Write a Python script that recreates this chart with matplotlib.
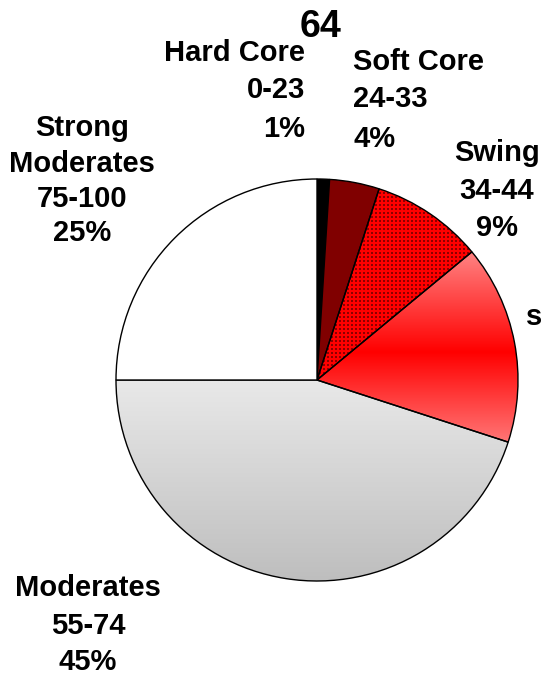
import numpy as np
import matplotlib
matplotlib.use("Agg")
import matplotlib.pyplot as plt

# Segment data (clockwise from 12 o'clock)
segments = ["Hard Core", "Soft Core", "Swing", "Soft Swing", "Moderates", "Strong Moderates"]
score_ranges = ["0-23", "24-33", "34-44", "45-54", "55-74", "75-100"]
shares = [1, 4, 9, 16, 45, 25]
title_text = "64"

W, H = 541, 675
fig = plt.figure(figsize=(W / 100, H / 100), dpi=100)
ax = fig.add_axes([0, 0, 1, 1])

cx, cy, r = 317, H - 380, 201

base_colors = ["#000000", "#800000", "none", "none", "none", "#ffffff"]
wedges, _ = ax.pie(shares, startangle=90, counterclock=False,
                   center=(cx, cy), radius=r, colors=base_colors,
                   wedgeprops=dict(edgecolor="black", linewidth=1.0))
for w in wedges:
    w.set_zorder(2)


def wedge_box(w):
    bb = w.get_path().get_extents(w.get_patch_transform())
    return (int(np.floor(bb.x0)) - 2, int(np.ceil(bb.x1)) + 2,
            int(np.floor(bb.y0)) - 2, int(np.ceil(bb.y1)) + 2)


def fill_wedge(w, rgb, x0, x1, y0, y1, interp):
    im = ax.imshow(rgb, extent=(x0, x1, y0, y1), origin="lower",
                   interpolation=interp, zorder=1, aspect="auto")
    im.set_clip_path(w)


# Swing: red fill with a dark dot texture
w = wedges[2]
x0, x1, y0, y1 = wedge_box(w)
nx, ny = x1 - x0, y1 - y0
tex = np.zeros((ny, nx, 3))
tex[:, :] = (1.0, 0.0, 0.0)
yy, xx = np.mgrid[0:ny, 0:nx]
dots = ((xx % 4) < 2) & ((yy % 4) < 2)
tex[dots] = (0.55, 0.0, 0.0)
fill_wedge(w, tex, x0, x1, y0, y1, "nearest")

# Soft Swing: red band, paler toward its upper and lower edges
w = wedges[3]
x0, x1, y0, y1 = wedge_box(w)
ys = np.arange(y0, y1) + 0.5
t = np.clip(np.abs(ys - (H - 352)) / 95.0, 0, 1)
red = np.array([1.0, 0.0, 0.0])
pink = np.array([1.0, 0.49, 0.49])
col = red[None, :] * (1 - t[:, None]) + pink[None, :] * t[:, None]
fill_wedge(w, np.repeat(col[:, None, :], 4, axis=1), x0, x1, y0, y1, "bilinear")

# Moderates: light grey, darkening downward
w = wedges[4]
x0, x1, y0, y1 = wedge_box(w)
ys = np.arange(y0, y1) + 0.5
t = np.clip(((H - ys) - 383) / (581 - 383), 0, 1)
g = (232 * (1 - t) + 190 * t) / 255.0
col = np.stack([g, g, g], axis=1)
fill_wedge(w, np.repeat(col[:, None, :], 4, axis=1), x0, x1, y0, y1, "bilinear")

font = dict(family=["Liberation Sans", "DejaVu Sans"], fontweight="bold", color="black")


def label_block(lines, x, baselines, ha):
    for s, yb in zip(lines, baselines):
        ax.text(x, H - yb, s, ha=ha, va="baseline", fontsize=21, **font)


def lines_for(i, name_lines=None):
    return (name_lines or [segments[i]]) + [score_ranges[i], f"{shares[i]}%"]


label_block(lines_for(0), 305, [61, 98, 137], "right")
label_block(lines_for(1), 353, [70, 107, 147], "left")
label_block(lines_for(2), 497, [161, 199, 236], "center")
label_block(["s"], 526, [325], "left")
label_block(lines_for(4), 88, [596, 634, 670], "center")
label_block(lines_for(5, ["Strong", "Moderates"]), 82, [136, 172, 207, 241], "center")

ax.text(321, H - 37, title_text, ha="center", va="baseline", fontsize=27, **font)

ax.set_xlim(0, W)
ax.set_ylim(0, H)
ax.set_aspect("auto")
ax.axis("off")
fig.savefig("out.png", dpi=100, facecolor="white")
